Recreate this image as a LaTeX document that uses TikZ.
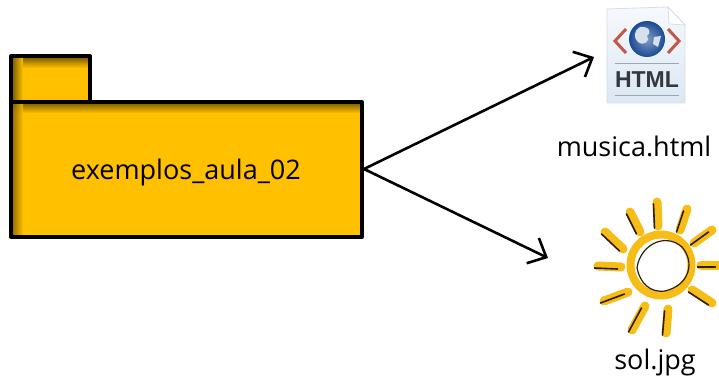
\documentclass[tikz,border=0pt]{standalone}
\usepackage{fontspec}
\setmainfont{Open Sans}
\newfontfamily\iconfont{Liberation Sans}
\usetikzlibrary{arrows.meta}
\definecolor{folderfill}{HTML}{FFC000}
\definecolor{folderdark}{HTML}{6E5300}
\definecolor{sunfill}{HTML}{F7BC16}
\definecolor{inkdark}{HTML}{2A2010}
\definecolor{pagefill}{HTML}{DCE7F3}
\definecolor{pagelight}{HTML}{F6F9FC}
\definecolor{pageedge}{HTML}{D3DEEA}
\definecolor{globeblue}{HTML}{1A4A92}
\definecolor{globelight}{HTML}{D5E0EC}
\definecolor{chevron}{HTML}{C0594A}
\definecolor{htmltext}{HTML}{33383E}
\tikzset{
 x=1pt,y=-1pt,
 folderline/.style={draw=black,line width=4pt,line join=round},
 label/.style={inner sep=0pt,text=black,font=\fontsize{27}{32}\selectfont},
 connector/.style={draw=black,line width=2.6pt,-{Straight Barb[length=15pt,width=28pt,line width=2.6pt]}},
 sunray/.style={draw=sunfill,line width=9pt,line cap=round},
 sunedge/.style={draw=inkdark,line width=1.6pt,line cap=round},
}
\begin{document}
\begin{tikzpicture}
\useasboundingbox (0,0) rectangle (719,382);
% folder tab
\fill[folderfill] (11,56) rectangle (90,102);
\shade[left color=folderdark,right color=folderfill,draw=none] (11,56) rectangle (23,102);
\shade[top color=folderdark,bottom color=folderfill,draw=none] (23,56) rectangle (90,68);
\draw[folderline] (11,102) -- (11,56) -- (90,56) -- (90,102);
% folder body
\node[draw=none,fill=folderfill,minimum width=351pt,minimum height=135pt,inner sep=0pt,anchor=north west] (folder) at (11,102) {};
\shade[top color=folderdark,bottom color=folderfill,draw=none] (11,102) rectangle (362,113);
\shade[left color=folderdark,right color=folderfill,draw=none,opacity=.8] (11,102) rectangle (23,237);
\draw[folderline] (11,102) rectangle (362,237);
\node[label] (foldertext) at (186,172) {exemplos\_aula\_02};
% html icon
\shade[top color=pagelight,bottom color=pagefill,draw=pageedge,line width=.8pt,line join=round] (607,9) -- (668,7) -- (685,25) -- (685,103) -- (607,103) -- cycle;
\path[fill=white,draw=pageedge,line width=.8pt] (668,7) -- (669,24) -- (685,25) -- cycle;
\shade[inner color=globeblue!55!white,outer color=globeblue] (647,39) circle (18);
\fill[globelight] (640,27) .. controls (650,26) and (652,33) .. (647,36) .. controls (651,40) and (644,47) .. (638,42) .. controls (633,38) and (634,30) .. (640,27) -- cycle;
\fill[globelight] (654,37) -- (661,36) -- (658,47) -- (653,44) -- cycle;
\draw[chevron,line width=3pt,line join=miter] (626,29) -- (615,41) -- (626,53);
\draw[chevron,line width=3pt,line join=miter] (668,29) -- (679,41) -- (668,53);
\draw[pageedge!75!black,line width=1pt] (615,64) -- (679,64);
\draw[pageedge!75!black,line width=1pt] (615,96) -- (679,96);
\node[inner sep=0pt,text=htmltext,font=\fontsize{23}{25}\selectfont\iconfont\bfseries] (htmlword) at (647,80) {HTML};
\node[label] (musica) at (634,146) {musica.html};
% sun
\foreach \ax/\ay/\bx/\by in {657/202/658/226,630/212/640/232,605/232/623/249,598/266/621/267,604/301/628/292,632/330/645/306,668/309/666/333,692/290/712/303,701/265/719/265,694/243/712/230,680/230/687/209}{
 \draw[sunray] (\ax,\ay) -- (\bx,\by);
 \draw[sunedge] (\ax-3.5,\ay+2) -- (\bx-3.5,\by+2);
}
\draw[draw=sunfill,line width=8pt] (661,265) circle (30.5);
\draw[inkdark,line width=1.2pt] (637,268) .. controls (640,245) and (665,232) .. (682,247) .. controls (695,262) and (690,285) .. (665,291) .. controls (650,293) and (640,283) .. (637,268);
% file name
\node[label] (sol) at (655,362) {sol.jpg};
% connectors
\coordinate (htmlend) at (594,57);
\coordinate (solend) at (548,258);
\coordinate (origin) at (364,169);
\draw[connector] (origin) -- (htmlend);
\draw[connector] (origin) -- (solend);
\end{tikzpicture}
\end{document}
